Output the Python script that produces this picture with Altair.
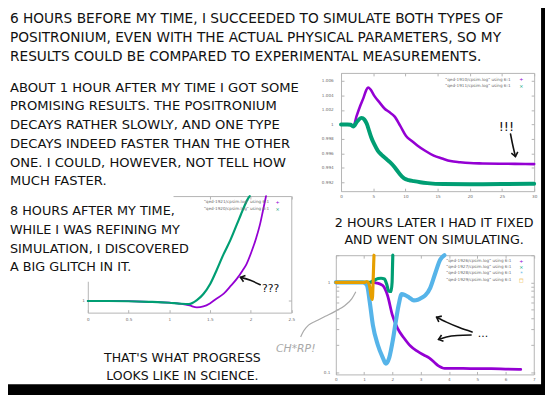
import altair as alt
import pandas as pd

FONT = "DejaVu Sans"
INK = "#111111"
W, H = 545, 387
OFF = 8  # reference pixel (X, Y) -> chart pixel (X-8, Y-8)

PURPLE, GREEN, BLUE, ORANGE = "#9400d3", "#009e73", "#56b4e9", "#e69f00"

# ---------------- panel A (top right): qed-1910 / qed-1911 ----------------
a_xticks = [0, 5, 10, 15, 20, 25, 30]
a_yticks = [0.992, 0.994, 0.996, 0.998, 1.0, 1.002, 1.004, 1.006]
a_t_1910 = [0, 1.0, 1.5, 1.9, 2.4, 3.0, 3.5, 3.9, 4.2, 4.6, 5.2, 6.0, 6.75, 7.5, 8.3,
            9.2, 10.1, 11.0, 11.85, 13.0, 14.4, 15.7, 17.0, 18.5, 20.0, 22.0, 24.6, 27.0, 30.0]
a_v_1910 = [1.0, 1.0, 0.99995, 0.9997, 1.0011, 1.0026, 1.0037, 1.0047, 1.0051, 1.0048, 1.0039,
            1.0030, 1.0022, 1.0017, 1.0011, 0.9998, 0.9984, 0.9977, 0.9971, 0.9964, 0.9957,
            0.9953, 0.99494, 0.99478, 0.99467, 0.99462, 0.99458, 0.99456, 0.99453]
a_t_1911 = [0, 1.0, 1.5, 1.9, 2.5, 3.2, 3.6, 4.0, 4.4, 4.7, 5.2, 5.7, 6.3, 7.0, 7.6, 8.3,
            9.0, 9.8, 10.5, 11.3, 12.3, 13.4, 15.9, 20.0, 25.0, 30.0]
a_v_1911 = [1.0, 1.0, 0.99995, 0.9997, 1.0004, 1.0009, 1.0007, 1.0001, 0.9990, 0.9982, 0.9972,
            0.99638, 0.9958, 0.99526, 0.9948, 0.99413, 0.9933, 0.99255, 0.99232, 0.99218,
            0.99203, 0.99191, 0.99178, 0.99176, 0.99178, 0.99182]

# ---------------- panel B (bottom left): qed-1921 / qed-1920 ----------------
b_xticks = [0, 0.5, 1, 1.5, 2, 2.5]
b_yticks = [1]
b_t_1921 = [0, 0.25, 0.5, 0.75, 1.0, 1.15, 1.25, 1.34, 1.42, 1.5, 1.58, 1.67, 1.75, 1.83,
            1.9, 1.95, 2.01, 2.07, 2.12, 2.15, 2.19]
b_v_1921 = [1.0, 1.0, 0.9998, 0.9993, 0.9985, 0.9975, 0.9962, 0.9945, 0.9953, 0.9979, 1.0020,
            1.0063, 1.0125, 1.019, 1.026, 1.0317, 1.042, 1.0543, 1.067, 1.0768, 1.09]
b_t_1920 = [0, 0.25, 0.5, 0.75, 1.0, 1.12, 1.24, 1.34, 1.42, 1.505, 1.58, 1.667, 1.75, 1.83,
            1.88, 1.93, 1.97, 1.99]
b_v_1920 = [1.0, 1.0, 0.9998, 0.9993, 0.9985, 0.9978, 0.9973, 1.0007, 1.006, 1.0148, 1.026,
            1.040, 1.052, 1.0655, 1.074, 1.0824, 1.088, 1.09]

# ---------------- panel C (bottom right): qed-1926 .. qed-1929 (log y) ----------------
c_xticks = [0, 1, 2, 3, 4, 5, 6, 7]
c_ylabels = [0.1, 1]
c_yticks = [0.1, 0.2, 0.3, 0.4, 0.5, 0.6, 0.7, 0.8, 0.9, 1, 2]
c_t_1926 = [0, 0.5, 1.0, 1.2, 1.37, 1.5, 1.6, 1.66, 1.83, 2.0, 2.18, 2.41, 2.65, 2.88, 3.11,
            3.3, 3.5, 3.63, 3.75, 3.85, 4.0, 4.5, 5.0, 5.5, 6.0, 6.54]
c_v_1926 = [1.0, 1.0, 1.0, 1.0, 0.99, 0.975, 0.945, 0.92, 0.714, 0.432, 0.31, 0.241, 0.195,
            0.172, 0.156, 0.145, 0.128, 0.118, 0.113, 0.111, 0.111, 0.111, 0.110, 0.110,
            0.109, 0.108]
c_t_1927 = [0, 0.5, 1.0, 1.2, 1.35, 1.5, 1.6, 1.72, 1.8, 1.87, 1.95, 1.99, 2.005, 2.015]
c_v_1927 = [1.0, 1.0, 1.0, 1.0, 1.05, 1.1, 1.11, 1.09, 0.95, 0.8, 0.79, 1.0, 1.5, 2.0]
c_t_1928 = [0, 0.5, 0.96, 1.05, 1.11, 1.2, 1.31, 1.48, 1.66, 1.77, 1.89, 2.01, 2.12, 2.22,
            2.33, 2.45, 2.59, 2.76, 2.9, 3.0, 3.17, 3.34, 3.52, 3.69, 3.84]
c_v_1928 = [1.0, 1.0, 1.0, 0.97, 0.918, 0.605, 0.336, 0.204, 0.146, 0.125, 0.146, 0.222,
            0.366, 0.556, 0.74, 0.72, 0.68, 0.63, 0.64, 0.665, 0.72, 0.87, 1.27, 1.78, 2.0]
c_t_1929 = [0, 0.5, 1.0, 1.1, 1.17, 1.21, 1.25, 1.29, 1.30, 1.31, 1.32, 1.33, 1.34, 1.35]
c_v_1929 = [1.0, 1.0, 1.0, 1.02, 0.97, 0.85, 0.7, 0.645, 0.7, 0.85, 1.05, 1.3, 1.65, 2.0]

# ---------------- legend texts ----------------
leg_labels = ['"qed-1910/cpsim.log" using 6:1', '"qed-1911/cpsim.log" using 6:1',
              '"qed-1921/cpsim.log" using 6:1', '"qed-1920/cpsim.log" using 6:1',
              '"qed-1926/cpsim.log" using 6:1', '"qed-1927/cpsim.log" using 6:1',
              '"qed-1928/cpsim.log" using 6:1', '"qed-1929/cpsim.log" using 6:1']
leg_marks = ["+", "\u00d7", "+", "\u00d7", "+", "\u00d7", "*", "\u25a1"]
leg_colors = [PURPLE, GREEN, PURPLE, GREEN, PURPLE, GREEN, BLUE, ORANGE]

# ---------------- comic captions ----------------
cap_top = ("6 HOURS BEFORE MY TIME, I SUCCEEDED TO SIMULATE BOTH TYPES OF\n"
           "POSITRONIUM, EVEN WITH THE ACTUAL PHYSICAL PARAMETERS, SO MY\n"
           "RESULTS COULD BE COMPARED TO EXPERIMENTAL MEASUREMENTS.")
cap_1h = ("ABOUT 1 HOUR AFTER MY TIME I GOT SOME\nPROMISING RESULTS. THE POSITRONIUM\n"
          "DECAYS RATHER SLOWLY, AND ONE TYPE\nDECAYS INDEED FASTER THAN THE OTHER\n"
          "ONE. I COULD, HOWEVER, NOT TELL HOW\nMUCH FASTER.")
cap_8h = "8 HOURS AFTER MY TIME,\nWHILE I WAS REFINING MY\nSIMULATION, I DISCOVERED\nA BIG GLITCH IN IT."
cap_2h = "2 HOURS LATER I HAD IT FIXED\nAND WENT ON SIMULATING."
cap_end = "THAT'S WHAT PROGRESS\nLOOKS LIKE IN SCIENCE."


# ======================= helpers =======================
def sc(domain, r0, r1, typ="linear"):
    kw = dict(type=typ, domain=domain, range=[r0 - OFF, r1 - OFF], clamp=True, nice=False)
    if typ == "linear":
        kw["zero"] = False
    return alt.Scale(**kw)


AX = dict(grid=False, title=None, labelFont=FONT, labelFontSize=4.2, labelColor="#6a6a6a",
          domainColor="#b4b4b4", tickColor="#b4b4b4", domainWidth=1, tickWidth=1)


def ax_x(scale, v0, **kw):
    return alt.Chart(pd.DataFrame({"v": [v0]})).mark_point(opacity=0).encode(
        x=alt.X("v:Q", scale=scale, axis=alt.Axis(**{**AX, **kw})))


def ax_y(scale, v0, **kw):
    return alt.Chart(pd.DataFrame({"v": [v0]})).mark_point(opacity=0).encode(
        y=alt.Y("v:Q", scale=scale, axis=alt.Axis(**{**AX, **kw})))


def frame_axes(xs, ys, x0, y0, xt, xfmt, xpad, yl, yt, yfmt, ypad, l, r, t, b):
    l, r, t, b = l - OFF, r - OFF, t - OFF, b - OFF
    return [
        ax_x(xs, x0, orient="bottom", offset=b - H, values=xt, format=xfmt, ticks=False,
             tickSize=0, domain=False, labelPadding=xpad, labelFlush=False, labelOverlap=False),
        ax_x(xs, x0, orient="top", offset=-b, values=xt, labels=False, tickSize=3),
        ax_x(xs, x0, orient="bottom", offset=t - H, values=xt, labels=False, tickSize=3),
        ax_y(ys, y0, orient="left", offset=-l, values=yl, format=yfmt, ticks=False,
             tickSize=0, domain=False, labelPadding=ypad, labelFlush=False, labelOverlap=False),
        ax_y(ys, y0, orient="right", offset=l - W, values=yt, labels=False, tickSize=3),
        ax_y(ys, y0, orient="left", offset=-r, values=yt, labels=False, tickSize=3),
    ]


def series(t, v, color, width, xs, ys):
    df = pd.DataFrame({"t": t, "v": v})
    return alt.Chart(df).mark_line(color=color, strokeWidth=width, interpolate="monotone",
                                   strokeCap="round", strokeJoin="round").encode(
        x=alt.X("t:Q", scale=xs, axis=None), y=alt.Y("v:Q", scale=ys, axis=None))


def arrow(t, v, angle, xs, ys):
    shaft = alt.Chart(pd.DataFrame({"t": t, "v": v})).mark_line(
        color=INK, strokeWidth=1.6, interpolate="monotone", strokeCap="round").encode(
        x=alt.X("t:Q", scale=xs, axis=None), y=alt.Y("v:Q", scale=ys, axis=None))
    head = alt.Chart(pd.DataFrame({"t": [t[-1]], "v": [v[-1]]})).mark_point(
        shape="M -1 -0.8 L 0 0 L -1 0.8", filled=False, stroke=INK, strokeWidth=1.6,
        size=70, angle=angle, opacity=1).encode(
        x=alt.X("t:Q", scale=xs, axis=None), y=alt.Y("v:Q", scale=ys, axis=None))
    return [shaft, head]


def note(t, v, s, size, xs, ys):
    return alt.Chart(pd.DataFrame({"t": [t], "v": [v], "s": [s]})).mark_text(
        font=FONT, fontSize=size, align="center", baseline="alphabetic", color=INK).encode(
        x=alt.X("t:Q", scale=xs, axis=None), y=alt.Y("v:Q", scale=ys, axis=None), text="s:N")


def panel(layers):
    return alt.layer(*layers).resolve_scale(x="shared", y="shared").resolve_axis(
        x="independent", y="independent")


# ======================= panel A =======================
axs, ays = sc([0, 30], 346, 542), sc([0.9908, 1.0071], 191, 71)
panel_a = panel(
    frame_axes(axs, ays, 0, 1.0, a_xticks, "d", 3, a_yticks, a_yticks, "~g", 8, 346, 542, 71, 191)
    + [series(a_t_1910, a_v_1910, PURPLE, 2.6, axs, ays),
       series(a_t_1911, a_v_1911, GREEN, 4.0, axs, ays)]
    + arrow([26.33, 26.63, 27.09], [0.99868, 0.99733, 0.99557], 78, axs, ays)
    + [note(25.68, 0.99909, "!!!", 13, axs, ays)]
)

# ======================= panel B =======================
bxs, bys = sc([0, 2.5], 89, 295.5), sc([0.99, 1.09], 314.3, 196)
panel_b = panel(
    frame_axes(bxs, bys, 0, 1.0, b_xticks, "~g", 4.5, b_yticks, b_yticks, "~g", 3.5, 89, 295.5, 196, 314.3)
    + [series(b_t_1921, b_v_1921, PURPLE, 1.8, bxs, bys),
       series(b_t_1920, b_v_1920, GREEN, 2.2, bxs, bys)]
    + arrow([2.1186, 1.9976, 1.8765], [1.01392, 1.01773, 1.02026], 197, bxs, bys)
    + [note(2.2457, 1.00758, "???", 11, bxs, bys)]
)

# ======================= panel C =======================
cxs, cys = sc([0, 7], 340.7, 541.6), sc([0.095, 2.0], 377, 256, "log")
panel_c = panel(
    frame_axes(cxs, cys, 0, 1.0, c_xticks, "d", 2.7, c_ylabels, c_yticks, "~g", 6, 340.7, 541.6, 256, 377)
    + [series(c_t_1926, c_v_1926, PURPLE, 2.8, cxs, cys),
       series(c_t_1927, c_v_1927, GREEN, 3.2, cxs, cys),
       series(c_t_1928, c_v_1928, BLUE, 4.2, cxs, cys),
       series(c_t_1929, c_v_1929, ORANGE, 3.2, cxs, cys)]
    + arrow([4.819, 4.366, 3.913, 3.565], [0.2810, 0.3146, 0.3614, 0.4101], 207, cxs, cys)
    + arrow([3.634, 3.913, 4.296, 4.784][::-1], [0.2326, 0.2477, 0.2572, 0.2604][::-1], 163, cxs, cys)
    + [note(5.202, 0.2477, "...", 11, cxs, cys)]
)

# ======================= canvas (captions, legends, frame) =======================
cx = alt.Scale(domain=[OFF, W + OFF], range=[0, W], zero=False, nice=False)
cy = alt.Scale(domain=[OFF, H + OFF], range=[0, H], zero=False, nice=False)


def cxy(fx="x", fy="y"):
    return dict(x=alt.X(f"{fx}:Q", scale=cx, axis=None), y=alt.Y(f"{fy}:Q", scale=cy, axis=None))


rects = pd.DataFrame({"x": [0, 549, 0], "x2": [176, 560, 560],
                      "y": [190, 0, 387], "y2": [283, 400, 400],
                      "c": ["white", "black", "black"]})
rect_layer = alt.Chart(rects).mark_rect().encode(
    x=alt.X("x:Q", scale=cx, axis=None), x2="x2:Q",
    y=alt.Y("y:Q", scale=cy, axis=None), y2="y2:Q",
    color=alt.Color("c:N", scale=None))

squig = pd.DataFrame({"x": [305, 308, 313, 320, 330, 340, 350, 357, 361],
                      "y": [339, 333, 327, 323, 318, 313, 307, 300, 293],
                      "o": list(range(9))})
squig_layer = alt.Chart(squig).mark_line(color="#a9a9a9", strokeWidth=1.2,
                                         interpolate="monotone").encode(
    order="o:Q", **cxy())
chirp = alt.Chart(pd.DataFrame({"x": [300], "y": [354], "s": ["CH*RP!"]})).mark_text(
    font=FONT, fontSize=11, fontStyle="italic", color="#a9a9a9", align="center",
    baseline="alphabetic").encode(text="s:N", **cxy())


def caption(text, x, y, size, lh, align="left"):
    return alt.Chart(pd.DataFrame({"x": [x], "y": [y], "s": [text]})).mark_text(
        font=FONT, fontSize=size, lineHeight=lh, lineBreak="\n", align=align,
        baseline="alphabetic", color=INK).encode(text="s:N", **cxy())


leg_right = [518, 518, 273, 273, 519, 519, 519, 519]
leg_y = [77.7, 84.7, 201.7, 209, 261.5, 268, 274.5, 281]
leg_mx = [529, 529, 281.7, 281.7, 529, 529, 529, 529]
leg = pd.DataFrame({"x": leg_right, "y": leg_y, "mx": leg_mx, "s": leg_labels,
                    "m": leg_marks, "c": leg_colors})
leg_text = alt.Chart(leg).mark_text(font=FONT, fontSize=4.2, align="right", baseline="middle",
                                    color="#6a6a6a").encode(text="s:N", **cxy())
leg_mark = alt.Chart(leg).mark_text(font=FONT, fontSize=5, align="center",
                                    baseline="middle").encode(
    text="m:N", color=alt.Color("c:N", scale=None), **cxy("mx", "y"))

canvas = alt.layer(
    rect_layer, squig_layer, chirp,
    caption(cap_top, 10, 20.7, 13.9, 19),
    caption(cap_1h, 10, 90, 13.3, 19),
    caption(cap_8h, 10, 215.7, 13, 18.9),
    caption(cap_2h, 440.5, 227.3, 12.9, 17.7, "center"),
    caption(cap_end, 185, 364, 12.7, 18.3, "center"),
    leg_text, leg_mark,
).resolve_scale(x="shared", y="shared")

chart = alt.layer(panel_a, panel_b, panel_c, canvas).resolve_scale(
    x="independent", y="independent").resolve_axis(
    x="independent", y="independent").properties(
    width=W, height=H, padding=0, background="white",
    autosize=alt.AutoSizeParams(type="none")).configure_view(stroke=None)

chart.save("out.html", embed_options={"renderer": "svg", "actions": False})
